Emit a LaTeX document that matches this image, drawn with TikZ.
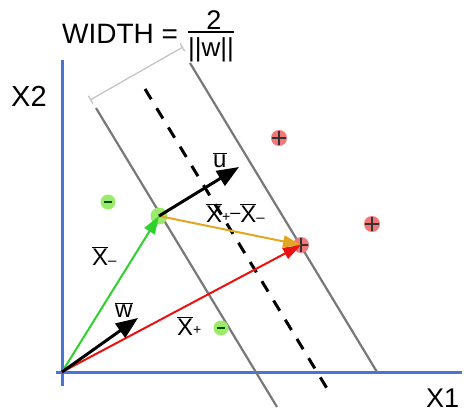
\documentclass[tikz,border=0pt]{standalone}
\usepackage{fontspec}
\setmainfont{Liberation Sans}
\usetikzlibrary{arrows.meta}
\definecolor{axisblue}{HTML}{4A72D8}
\definecolor{lgray}{HTML}{787878}
\definecolor{bgray}{HTML}{C4C4C4}
\definecolor{vgreen}{HTML}{2ED12E}
\definecolor{vred}{HTML}{EC1010}
\definecolor{vorange}{HTML}{E2A623}
\definecolor{dotred}{HTML}{F07878}
\definecolor{dotgreen}{HTML}{9BEA6A}
\newcommand\ovl[1]{$\overline{\hbox{#1}}$}
\newcommand\subplus{\raisebox{0.02em}{\fontsize{14}{14}\selectfont +}}
\newcommand\subminus{\raisebox{0em}{\fontsize{15}{15}\selectfont –}}
\newcommand\midminus{\raisebox{4pt}{\fontsize{18}{18}\selectfont –}}
\tikzset{
  axisline/.style={axisblue, line width=3pt},
  margin/.style={lgray, line width=2.2pt},
  boundary/.style={black, line width=3pt, dash pattern=on 12pt off 10.5pt},
  bigvec/.style={black, line width=3pt, -{Triangle[length=22pt,width=17pt]}},
  colvec/.style={line width=2pt, -{Triangle[length=18pt,width=12pt]}},
  plusdot/.style={circle, fill=dotred, inner sep=0pt, minimum size=16pt,
    path picture={\draw[black!80, line width=1.3pt]
      ([yshift=-1pt]path picture bounding box.north) -- ([yshift=1pt]path picture bounding box.south)
      ([xshift=1pt]path picture bounding box.west) -- ([xshift=-1pt]path picture bounding box.east);}},
  minusdot/.style={circle, fill=dotgreen, inner sep=0pt, minimum size=15pt,
    path picture={\draw[black!70!green, line width=1.8pt] (-4pt,0) -- (4pt,0);}},
  lbl/.style={inner sep=0pt, anchor=base west, font=\fontsize{24}{24}\selectfont},
}
\begin{document}
\begin{tikzpicture}[x=1pt,y=-1pt]
\useasboundingbox (0,0) rectangle (474,413);
% axes
\coordinate (O) at (62,372);
\coordinate (yt) at (62,60);
\coordinate (yb) at (62,386);
\coordinate (xl) at (56,372);
\coordinate (xr) at (462,372);
\draw[axisline] (yb) -- (yt);
\draw[axisline] (xl) -- (xr);
% margin lines and decision boundary
\coordinate (l1) at (96,108);
\coordinate (l2) at (277,407);
\coordinate (r1) at (190,63);
\coordinate (r2) at (377,372);
\coordinate (d1) at (145,89);
\coordinate (d2) at (331,395);
\draw[margin] (l1) -- (l2);
\draw[margin] (r1) -- (r2);
\draw[boundary] (d1) -- (d2);
% width bracket
\coordinate (b1) at (90,100);
\coordinate (b2) at (183,47);
\draw[bgray, line width=1.3pt, {Bar[width=9pt]}-{Bar[width=9pt]}] (b1) -- (b2);
% samples
\node[plusdot] (p1) at (279,138) {};
\node[plusdot] (p2) at (372,224) {};
\node[minusdot] (m1) at (108,202) {};
\node[minusdot] (m2) at (221,328) {};
\node[circle, fill=dotgreen, inner sep=0pt, minimum size=17pt] (gp) at (159,216) {};
\node[plusdot] (rp) at (301,245) {};
% vectors
\draw[colvec, vgreen] (O) -- (gp.center);
\draw[colvec, vred] (O) -- (rp.center);
\draw[colvec, vorange] (gp.center) -- (rp.center);
\coordinate (wt) at (138,318);
\coordinate (ut) at (239,167);
\draw[bigvec] (O) -- (wt);
\draw[bigvec] (gp.center) -- (ut);
% labels
\node[lbl] (lu) at (213,167) {\ovl{u}};
\node[lbl] (ldiff) at (206,222) {\ovl{X}\subplus\midminus\ovl{X}\subminus};
\node[lbl] (lxm) at (92,265) {\ovl{X}\subminus};
\node[lbl] (lw) at (115,317) {\ovl{w}};
\node[lbl] (lxp) at (177,335) {\ovl{X}\subplus};
\node[lbl, font=\fontsize{29}{29}\selectfont] (x2) at (11,106) {X2};
\node[lbl, font=\fontsize{27}{27}\selectfont] (x1) at (426,407) {X1};
\node[lbl, font=\fontsize{28}{28}\selectfont] (wd) at (62,43) {WIDTH =};
\node[inner sep=0pt, anchor=base, font=\fontsize{27}{27}\selectfont] (two) at (214,29) {2};
\node[inner sep=0pt, anchor=base, font=\fontsize{26}{26}\selectfont] (nw) at (211,56) {||w||};
\coordinate (f1) at (188,32);
\coordinate (f2) at (234,32);
\draw[black, line width=1.8pt] (f1) -- (f2);
\end{tikzpicture}
\end{document}
